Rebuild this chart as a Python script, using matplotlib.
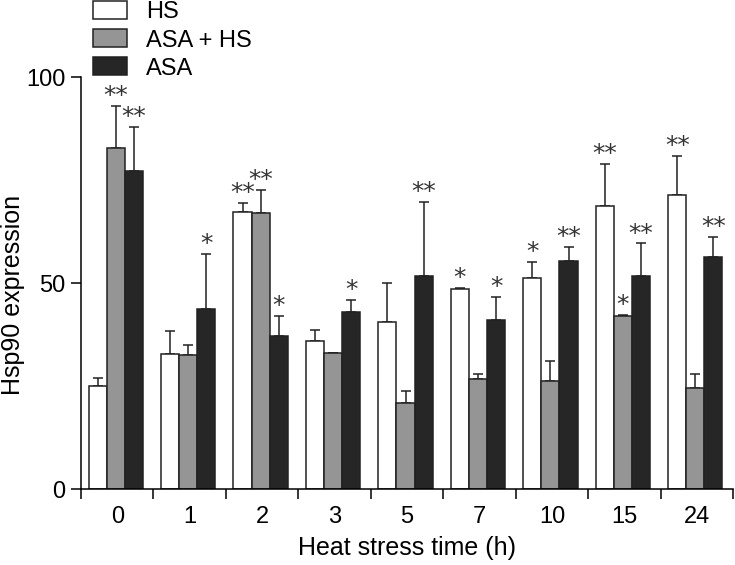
import matplotlib
matplotlib.use("Agg")
import matplotlib.pyplot as plt
from matplotlib.patches import Patch

plt.rcParams['font.family'] = ['Liberation Sans', 'DejaVu Sans']

categories = ['0', '1', '2', '3', '5', '7', '10', '15', '24']
series = ['HS', 'ASA + HS', 'ASA']
hs = [25.1, 32.8, 67.2, 36.0, 40.6, 48.6, 51.3, 68.8, 71.3]
asa_hs = [82.8, 32.5, 67.0, 32.9, 20.9, 26.8, 26.1, 41.9, 24.5]
asa = [77.1, 43.7, 37.2, 42.9, 51.8, 41.0, 55.3, 51.8, 56.4]
hs_err = [1.8, 5.5, 2.2, 2.6, 9.5, 0.3, 3.7, 10.0, 9.6]
asa_hs_err = [10.1, 2.5, 5.6, 0.0, 2.8, 1.1, 5.0, 0.4, 3.4]
asa_err = [10.8, 13.3, 4.9, 3.0, 17.9, 5.7, 3.5, 7.8, 4.8]
hs_sig = ['', '', '**', '', '', '*', '*', '**', '**']
asa_hs_sig = ['**', '', '**', '', '', '', '', '*', '']
asa_sig = ['**', '*', '*', '*', '**', '*', '**', '**', '**']

colors = ['white', '#959595', '#262626']
values = [hs, asa_hs, asa]
errors = [hs_err, asa_hs_err, asa_err]
sigs = [hs_sig, asa_hs_sig, asa_sig]
offsets = [-0.27, -0.02, 0.23]
width = 0.25

fig = plt.figure(figsize=(7.35, 5.65), dpi=100)
ax = fig.add_axes([81/735, 1-489/565, (733-81)/735, (489-77)/565])

x = list(range(len(categories)))
for k in range(3):
    pos = [xi + offsets[k] for xi in x]
    ax.bar(pos, values[k], width=width, color=colors[k], edgecolor='#222222',
           linewidth=1.1, zorder=2)
    ax.errorbar(pos, values[k], yerr=[[0]*len(x), errors[k]], fmt='none',
                ecolor='#222222', elinewidth=1.1, capsize=3.3, capthick=1.1, zorder=1)
    for p, v, e, s in zip(pos, values[k], errors[k], sigs[k]):
        if s:
            ax.annotate(s, (p, v + e), xytext=(0, -1.5), textcoords='offset points',
                        ha='center', va='bottom', fontsize=18, color='#333333',
                        family=['DejaVu Sans'], annotation_clip=False)

ax.set_xlim(-0.5, len(categories) - 0.5)
ax.set_ylim(0, 100)
ax.set_yticks([0, 50, 100])
ax.set_xticks([i - 0.5 for i in range(len(categories) + 1)])
ax.set_xticklabels([])
ax.set_xticks(x, minor=True)
ax.set_xticklabels(categories, minor=True)
ax.tick_params(axis='x', which='minor', length=0, pad=12, labelsize=17)
ax.tick_params(axis='x', which='major', length=7, width=1.1, direction='out')
ax.tick_params(axis='y', length=7, width=1.1, direction='out', labelsize=17, pad=4)
for s in ['top', 'right']:
    ax.spines[s].set_visible(False)
for s in ['left', 'bottom']:
    ax.spines[s].set_linewidth(1.1)
ax.set_xlabel('Heat stress time (h)', fontsize=18, labelpad=6)
ax.set_ylabel('Hsp90 expression', fontsize=18)
ax.yaxis.set_label_coords(-0.086, 0.47)

handles = [Patch(facecolor=c, edgecolor='#222222', linewidth=1.1) for c in colors]
fig.legend(handles, series, loc='upper left', bbox_to_anchor=(93/735, 0.998),
           frameon=False, fontsize=17, handlelength=1.45, handleheight=0.8,
           labelspacing=0.25, handletextpad=0.8, borderpad=0, borderaxespad=0)

fig.savefig('out.png', dpi=100)
